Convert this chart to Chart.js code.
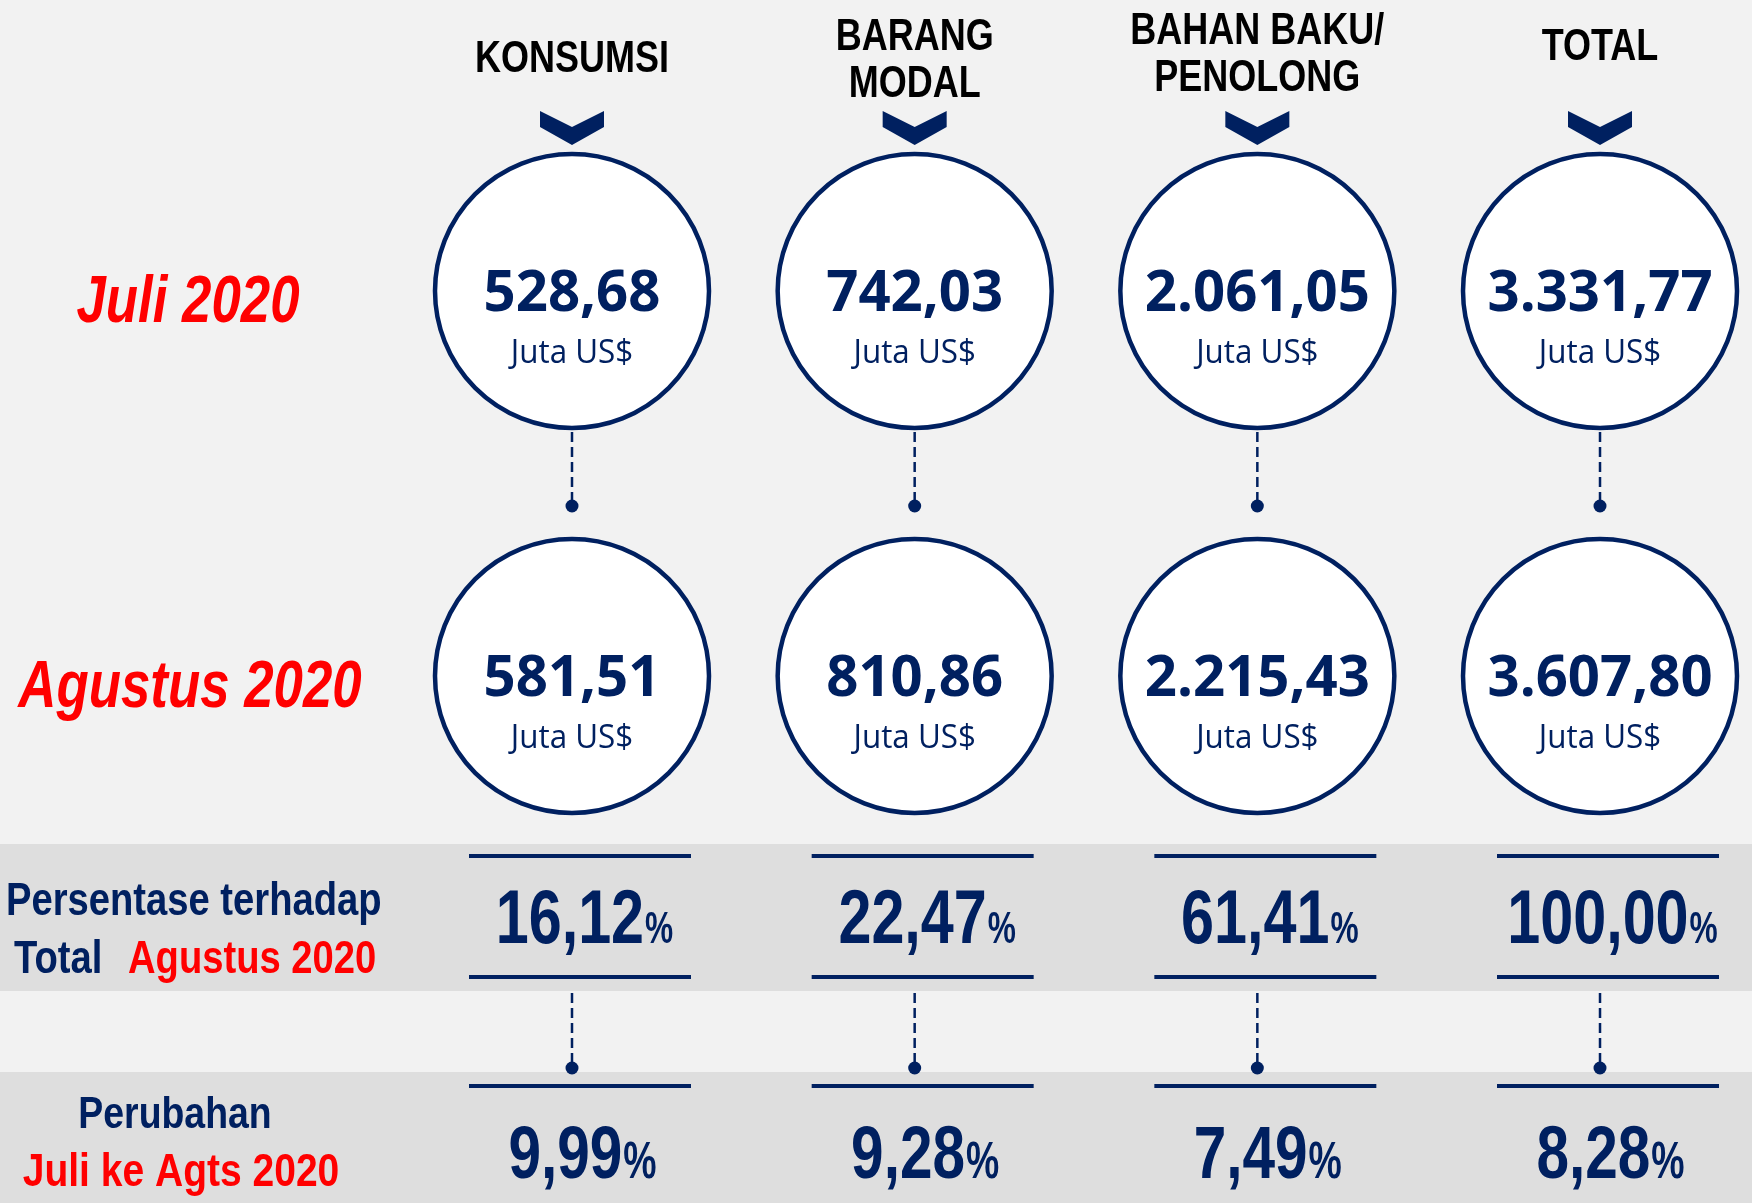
<!DOCTYPE html>
<html>
<head>
<meta charset="utf-8">
<script src="https://cdn.jsdelivr.net/npm/chart.js@4/dist/chart.umd.min.js"></script>
<style>
  html,body{margin:0;padding:0;background:#f2f2f2;}
  canvas{display:block;}
</style>
</head>
<body>
<canvas id="c" width="1752" height="1203"></canvas>
<script>
// ---------- DATA ----------
const categories = [["KONSUMSI"], ["BARANG", "MODAL"], ["BAHAN BAKU/", "PENOLONG"], ["TOTAL"]];
const periods = ["Juli 2020", "Agustus 2020"];
const juliValues = [528.68, 742.03, 2061.05, 3331.77];
const agustusValues = [581.51, 810.86, 2215.43, 3607.80];
const shareAgustus = [16.12, 22.47, 61.41, 100.00];
const changeJuliAgustus = [9.99, 9.28, 7.49, 8.28];
const unitLabel = "Juta US$";
const shareLabel = ["Persentase terhadap", "Total", "Agustus 2020"];
const changeLabel = ["Perubahan", "Juli ke Agts 2020"];

// ---------- LAYOUT / STYLE ----------
const NAVY = '#002060';
const RED = '#ff0000';
const W = 1752, H = 1203;
const COL_PX0 = 572, COL_STEP = 342.67;
const X_MIN = -COL_PX0 / COL_STEP;
const X_MAX = X_MIN + W / COL_STEP;
const ROW_Y = [291, 676];
const RADIUS = 137;
const DOT_Y = [506, 1068];
const HEADER_MID = [56, 57, 51, 44];
const SX = 0.8;

function fmt(v) {
  const neg = v < 0;
  const s = Math.abs(v).toFixed(2);
  let [ip, dp] = s.split('.');
  ip = ip.replace(/\B(?=(\d{3})+(?!\d))/g, '.');
  return (neg ? '-' : '') + ip + ',' + dp;
}

function txt(ctx, s, x, y, font, color, align, sx) {
  ctx.save();
  ctx.font = font;
  ctx.fillStyle = color;
  ctx.textBaseline = 'alphabetic';
  ctx.textAlign = 'left';
  const w = ctx.measureText(s).width * sx;
  let left = x;
  if (align === 'center') left = x - w / 2;
  else if (align === 'right') left = x - w;
  ctx.translate(left, y);
  ctx.scale(sx, 1);
  ctx.fillText(s, 0, 0);
  ctx.restore();
  return w;
}
function measure(ctx, s, font, sx) {
  ctx.save(); ctx.font = font; const w = ctx.measureText(s).width * sx; ctx.restore(); return w;
}
function pct(ctx, value, cx, baseline, big, small) {
  const s = fmt(value);
  const f1 = `bold ${big}px "Liberation Sans", Arial, sans-serif`;
  const f2 = `bold ${small}px "Liberation Sans", Arial, sans-serif`;
  const w1 = measure(ctx, s, f1, 0.78);
  const w2 = measure(ctx, '%', f2, 0.72);
  const left = cx - (w1 + w2) / 2;
  txt(ctx, s, left, baseline, f1, NAVY, 'left', 0.78);
  txt(ctx, '%', left + w1 + 1, baseline, f2, NAVY, 'left', 0.72);
}

const decorPlugin = {
  id: 'decor',
  beforeDatasetsDraw(chart) {
    const ctx = chart.ctx;
    const xs = chart.scales.x, ys = chart.scales.y;
    const Y = v => ys.getPixelForValue(v);
    ctx.save();
    // background
    ctx.fillStyle = '#f2f2f2';
    ctx.fillRect(0, 0, W, H);
    ctx.fillStyle = '#dedede';
    ctx.fillRect(0, Y(844), W, Y(991) - Y(844));
    ctx.fillRect(0, Y(1072), W, Y(1203) - Y(1072));

    categories.forEach((c, i) => {
      const cx = xs.getPixelForValue(i);
      // chevron
      ctx.fillStyle = NAVY;
      ctx.beginPath();
      ctx.moveTo(cx - 32, Y(111));
      ctx.lineTo(cx, Y(127));
      ctx.lineTo(cx + 32, Y(111));
      ctx.lineTo(cx + 32, Y(127));
      ctx.lineTo(cx, Y(145));
      ctx.lineTo(cx - 32, Y(127));
      ctx.closePath();
      ctx.fill();
      // dashed connectors
      ctx.strokeStyle = NAVY;
      ctx.lineWidth = 2.5;
      ctx.setLineDash([10, 5]);
      ctx.beginPath();
      ctx.moveTo(cx, Y(432));
      ctx.lineTo(cx, Y(502));
      ctx.moveTo(cx, Y(993));
      ctx.lineTo(cx, Y(1064));
      ctx.stroke();
      ctx.setLineDash([]);
      // band lines
      const lc = cx + 8;
      ctx.lineWidth = 4;
      ctx.beginPath();
      [856, 977, 1086].forEach(y => {
        ctx.moveTo(lc - 111, Y(y));
        ctx.lineTo(lc + 111, Y(y));
      });
      ctx.stroke();
    });
    ctx.restore();
  },
  afterDatasetsDraw(chart) {
    const ctx = chart.ctx;
    const xs = chart.scales.x, ys = chart.scales.y;
    const Y = v => ys.getPixelForValue(v);
    const hdrFont = 'bold 45px "Liberation Sans", Arial, sans-serif';
    categories.forEach((lines, i) => {
      const cx = xs.getPixelForValue(i);
      const n = lines.length;
      lines.forEach((ln, k) => {
        const base = HEADER_MID[i] + (k - (n - 1) / 2) * 47 + 16;
        txt(ctx, ln, cx, Y(base), hdrFont, '#000', 'center', SX);
      });
    });
    // circle texts
    const numFont = 'bold 58px "Open Sans", "Noto Sans", sans-serif';
    const unitFont = '33px "Open Sans", "Noto Sans", sans-serif';
    [juliValues, agustusValues].forEach((vals, d) => {
      const meta = chart.getDatasetMeta(d);
      vals.forEach((v, i) => {
        const p = meta.data[i];
        txt(ctx, fmt(v), p.x, p.y + 20, numFont, NAVY, 'center', 0.97);
        txt(ctx, unitLabel, p.x, p.y + 72, unitFont, NAVY, 'center', 0.95);
      });
    });
    // period labels
    const perFont = 'italic bold 66px "Liberation Sans", Arial, sans-serif';
    txt(ctx, periods[0], 188, Y(ROW_Y[0] + 31), perFont, RED, 'center', SX);
    txt(ctx, periods[1], 190, Y(ROW_Y[1] + 31), perFont, RED, 'center', SX);

    // percentage rows
    shareAgustus.forEach((v, i) => pct(ctx, v, xs.getPixelForValue(i) + 12, Y(943), 76, 44));
    changeJuliAgustus.forEach((v, i) => pct(ctx, v, xs.getPixelForValue(i) + 10, Y(1178), 75, 52));

    // band labels
    const lblFont = 'bold 46px "Liberation Sans", Arial, sans-serif';
    txt(ctx, shareLabel[0], 6, Y(915), lblFont, NAVY, 'left', 0.83);
    txt(ctx, shareLabel[1], 14, Y(973), lblFont, NAVY, 'left', 0.83);
    txt(ctx, shareLabel[2], 128, Y(973), lblFont, RED, 'left', 0.83);
    txt(ctx, changeLabel[0], 175, Y(1128), 'bold 44px "Liberation Sans", Arial, sans-serif', NAVY, 'center', 0.85);
    txt(ctx, changeLabel[1], 181, Y(1186), 'bold 47px "Liberation Sans", Arial, sans-serif', RED, 'center', 0.83);
  }
};

const circleDs = (vals, r, label) => ({
  label,
  data: vals.map((v, i) => ({ x: i, y: ROW_Y[r], v })),
  pointRadius: RADIUS,
  pointHoverRadius: RADIUS,
  pointBackgroundColor: '#ffffff',
  pointBorderColor: NAVY,
  pointBorderWidth: 4.5,
  pointHoverBorderWidth: 4.5,
  clip: false
});

new Chart(document.getElementById('c'), {
  type: 'scatter',
  data: {
    datasets: [
      circleDs(juliValues, 0, periods[0]),
      circleDs(agustusValues, 1, periods[1]),
      {
        label: 'dots',
        data: categories.flatMap((c, i) => DOT_Y.map(y => ({ x: i, y }))),
        pointRadius: 6.5,
        pointHoverRadius: 6.5,
        pointBackgroundColor: NAVY,
        pointBorderWidth: 0,
        clip: false
      }
    ]
  },
  options: {
    responsive: false,
    animation: false,
    events: [],
    layout: { padding: 0, autoPadding: false },
    plugins: { legend: { display: false }, tooltip: { enabled: false } },
    scales: {
      x: { type: 'linear', min: X_MIN, max: X_MAX, display: false },
      y: { type: 'linear', min: 0, max: H, reverse: true, display: false }
    }
  },
  plugins: [decorPlugin]
});
</script>
</body>
</html>
